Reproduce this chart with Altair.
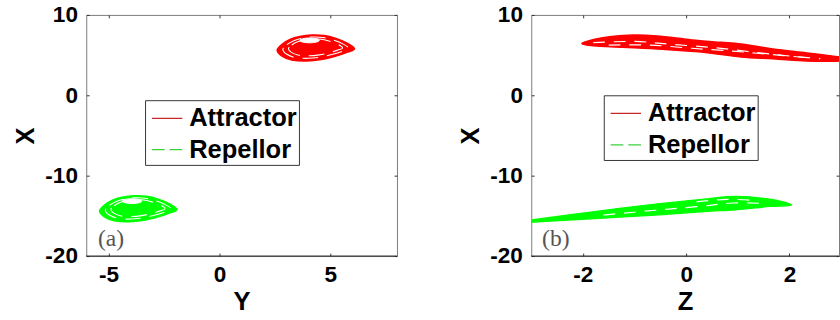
import altair as alt
import pandas as pd

SANS = "Liberation Sans"
SERIF = "Liberation Serif"
RED = "#ff0000"
GREEN = "#00ff00"

# ---------------- Panel (a): X against Y ----------------
# attractor orbit envelope
a_att_y = [2.60, 2.82, 3.18, 3.62, 4.15, 4.72, 5.25, 5.78, 6.09, 5.78, 5.25, 4.59, 3.93, 3.26, 2.82]
a_att_x = [5.61, 6.34, 6.95, 7.32, 7.50, 7.44, 7.07, 6.46, 5.79, 5.37, 4.88, 4.45, 4.27, 4.39, 4.88]
# gaps between orbit windings
a_att_g1_y = [3.11, 3.26, 3.52, 3.82, 4.20, 4.59, 4.97, 5.34, 5.55, 5.34, 4.97, 4.50, 4.04, 3.57, 3.26]
a_att_g1_x = [5.78, 6.26, 6.65, 6.89, 7.01, 6.97, 6.73, 6.33, 5.90, 5.63, 5.31, 5.03, 4.91, 4.99, 5.31]
a_att_g2_y = [2.86, 3.04, 3.35, 3.72, 4.17, 4.66, 5.11, 5.56, 5.82, 5.56, 5.11, 4.55, 3.99, 3.42, 3.04]
a_att_g2_x = [5.70, 6.30, 6.80, 7.10, 7.25, 7.20, 6.90, 6.40, 5.85, 5.50, 5.10, 4.75, 4.60, 4.70, 5.10]
a_att_hole_y = [4.50, 4.37, 4.06, 3.75, 3.62, 3.75, 4.06, 4.37]
a_att_hole_x = [6.83, 7.04, 7.13, 7.04, 6.83, 6.62, 6.53, 6.62]

# repellor orbit envelope
a_rep_y = [-5.40, -5.18, -4.82, -4.38, -3.85, -3.28, -2.75, -2.22, -1.91, -2.22, -2.75, -3.41, -4.07, -4.74, -5.18]
a_rep_x = [-14.39, -13.66, -13.05, -12.68, -12.50, -12.56, -12.93, -13.54, -14.21, -14.63, -15.12, -15.55, -15.73, -15.61, -15.12]
a_rep_g1_y = [-4.89, -4.74, -4.48, -4.18, -3.80, -3.41, -3.03, -2.66, -2.45, -2.66, -3.03, -3.50, -3.96, -4.43, -4.74]
a_rep_g1_x = [-14.22, -13.74, -13.35, -13.11, -12.99, -13.03, -13.27, -13.67, -14.10, -14.37, -14.69, -14.97, -15.09, -15.01, -14.69]
a_rep_g2_y = [-5.14, -4.96, -4.65, -4.28, -3.83, -3.34, -2.89, -2.44, -2.18, -2.44, -2.89, -3.45, -4.01, -4.58, -4.96]
a_rep_g2_x = [-14.30, -13.70, -13.20, -12.90, -12.75, -12.80, -13.10, -13.60, -14.15, -14.50, -14.90, -15.25, -15.40, -15.30, -14.90]
a_rep_hole_y = [-3.50, -3.63, -3.94, -4.25, -4.38, -4.25, -3.94, -3.63]
a_rep_hole_x = [-13.17, -12.96, -12.87, -12.96, -13.17, -13.38, -13.47, -13.38]

# ---------------- Panel (b): X against Z ----------------
b_att_z = [-2.02, -1.79, -1.48, -1.03, -0.56, 0.11, 0.68, 1.06, 1.68, 2.33, 2.89, 3.05,
           3.05, 2.89, 2.33, 1.68, 1.06, 0.30, -0.46, -1.22, -1.79]
b_att_x = [6.46, 6.95, 7.28, 7.50, 7.38, 6.89, 6.59, 6.38, 5.77, 5.28, 4.84, 4.70,
           4.33, 4.23, 4.27, 4.55, 4.76, 5.37, 5.73, 5.98, 6.16]
b_att_g1_z = [-1.8, -1.0, -0.3, 0.5, 1.2, 1.9, 2.6]
b_att_g1_x = [6.55, 6.70, 6.35, 5.95, 5.45, 4.95, 4.55]
b_att_g2_z = [-1.5, -0.7, 0.1, 0.9, 1.6, 2.3]
b_att_g2_x = [6.25, 6.25, 5.85, 5.50, 5.10, 4.70]

b_rep_z = [-3.05, -2.96, -1.85, -0.59, 0.35, 0.96, 1.62, 2.04,
           1.62, 0.96, 0.35, -0.59, -1.85, -2.96, -3.05]
b_rep_x = [-15.45, -15.49, -14.55, -13.54, -12.93, -12.60, -12.93, -13.66,
           -13.82, -14.23, -14.45, -14.88, -15.37, -15.77, -15.80]
b_rep_g1_z = [-1.6, -0.6, 0.3, 0.9, 1.5]
b_rep_g1_x = [-14.90, -14.30, -13.80, -13.40, -13.45]
b_rep_g2_z = [0.2, 0.8, 1.4]
b_rep_g2_x = [-13.25, -12.95, -13.10]

# legend entries (single-point lines: nothing is drawn, only the legend)
series_names = ["Attractor", "Repellor"]
leg_a_h = [4.15, -3.85]
leg_b_h = [0.5, 0.5]
leg_v = [5.9, -14.1]

panel_tags = ["(a)", "(b)"]
tag_h = [-5.47, -2.79]
tag_v = -18.8


def path(h, v, name):
    return pd.DataFrame({"h": h, "v": v, "seq": list(range(len(h))), "path": name})


def paths(*items):
    return pd.concat([path(*it) for it in items], ignore_index=True)


def panel(xdom, xticks, xtitle, width, fills, gaps, holes, open_gaps, leg_h, tag, legx, legy):
    xs = alt.Scale(domain=xdom, nice=False, zero=False)
    ys = alt.Scale(domain=[-20, 10], nice=False, zero=False)
    lab = dict(labelFont=SANS, labelFontSize=23, labelFontWeight="bold", labelColor="black",
               titleFont=SANS, titleFontSize=26, titleFontWeight="bold", titleColor="black",
               grid=False, domain=False, tickColor="#333333", tickSize=3, offset=-3,
               labelFlush=False, labelExpr="datum.value")
    ax_bottom = alt.Axis(orient="bottom", values=xticks, title=xtitle, labelPadding=8,
                         titlePadding=3, **lab)
    ax_left = alt.Axis(orient="left", values=[-20, -10, 0, 10], title="X", labelPadding=9,
                       titlePadding=7, **lab)
    tick_only = dict(grid=False, domain=False, labels=False, title=None, tickSize=3,
                     offset=-3, tickColor="#333333")
    ax_top = alt.Axis(orient="top", values=xticks, **tick_only)
    ax_right = alt.Axis(orient="right", values=[-20, -10, 0, 10], **tick_only)

    def xy(first=False):
        return dict(x=alt.X("h:Q", scale=xs, axis=ax_bottom if first else None),
                    y=alt.Y("v:Q", scale=ys, axis=ax_left if first else None))

    layers = []
    for i, (df, color) in enumerate(fills):
        layers.append(
            alt.Chart(df).mark_line(interpolate="cardinal-closed", fill=color, stroke=color,
                                    strokeWidth=1.5, clip=True)
            .encode(order="seq:Q", **xy(i == 0))
        )
    if gaps is not None:
        layers.append(
            alt.Chart(gaps).mark_line(interpolate="cardinal-closed", stroke="white",
                                      strokeWidth=1.1, strokeDash=[16, 9], clip=True)
            .encode(order="seq:Q", detail="path:N", **xy())
        )
    if holes is not None:
        layers.append(
            alt.Chart(holes).mark_line(interpolate="cardinal-closed", fill="white",
                                       stroke="white", strokeWidth=1, clip=True)
            .encode(order="seq:Q", detail="path:N", **xy())
        )
    if open_gaps is not None:
        layers.append(
            alt.Chart(open_gaps).mark_line(interpolate="cardinal", stroke="white",
                                           strokeWidth=1.2, strokeDash=[12, 9], clip=True)
            .encode(order="seq:Q", detail="path:N", **xy())
        )

    # darker bottom frame edge
    layers.append(
        alt.Chart(pd.DataFrame({"v": [-20]})).mark_rule(color="#222222", strokeWidth=1)
        .encode(y=alt.Y("v:Q", scale=ys, axis=None))
    )

    leg = alt.Legend(title=None, orient="none", legendX=legx, legendY=legy,
                     strokeColor="#333333", fillColor="white", padding=2,
                     symbolType="stroke", symbolSize=961, symbolStrokeWidth=1.2,
                     symbolOffset=4, labelFont=SANS, labelFontSize=26,
                     labelFontWeight="bold", labelColor="black", labelOffset=6,
                     rowPadding=2)
    leg_df = pd.DataFrame({"name": series_names, "h": leg_h, "v": leg_v})
    layers.append(
        alt.Chart(leg_df).mark_line(strokeWidth=1.2)
        .encode(
            x=alt.X("h:Q", scale=xs, axis=ax_top),
            y=alt.Y("v:Q", scale=ys, axis=ax_right),
            stroke=alt.Stroke("name:N", legend=leg,
                              scale=alt.Scale(domain=series_names, range=["#c82828", "#3cd23c"])),
            strokeDash=alt.StrokeDash("name:N", legend=leg,
                                      scale=alt.Scale(domain=series_names, range=[[1, 0], [13, 5]])),
        )
    )

    tag_df = pd.DataFrame({"h": [tag[0]], "v": [tag_v], "t": [tag[1]]})
    layers.append(
        alt.Chart(tag_df).mark_text(font=SERIF, fontSize=24, color="#555555",
                                    align="left", baseline="alphabetic")
        .encode(x=alt.X("h:Q", scale=xs, axis=None), y=alt.Y("v:Q", scale=ys, axis=None),
                text="t:N")
    )

    return (alt.layer(*layers)
            .resolve_axis(x="independent", y="independent")
            .properties(width=width, height=246))


pa = panel(
    [-6, 8], [-5, 0, 5], "Y", 317,
    [(path(a_att_y, a_att_x, "att"), RED), (path(a_rep_y, a_rep_x, "rep"), GREEN)],
    paths((a_att_g1_y, a_att_g1_x, "ag1"), (a_att_g2_y, a_att_g2_x, "ag2"),
          (a_rep_g1_y, a_rep_g1_x, "rg1"), (a_rep_g2_y, a_rep_g2_x, "rg2")),
    paths((a_att_hole_y, a_att_hole_x, "ah"), (a_rep_hole_y, a_rep_hole_x, "rh")),
    None, leg_a_h, (tag_h[0], panel_tags[0]), 60, 87,
)

pb = panel(
    [-3, 2.96], [-2, 0, 2], "Z", 314,
    [(path(b_att_z, b_att_x, "att"), RED), (path(b_rep_z, b_rep_x, "rep"), GREEN)],
    None, None,
    paths((b_att_g1_z, b_att_g1_x, "ag1"), (b_att_g2_z, b_att_g2_x, "ag2"),
          (b_rep_g1_z, b_rep_g1_x, "rg1"), (b_rep_g2_z, b_rep_g2_x, "rg2")),
    leg_b_h, (tag_h[1], panel_tags[1]), 74, 82,
)

chart = (
    alt.hconcat(pa, pb, spacing=60)
    .resolve_scale(x="independent", y="independent", stroke="independent", strokeDash="independent")
    .resolve_legend(stroke="independent", strokeDash="independent")
    .configure_view(stroke="#7a7a7a", strokeWidth=1)
    .properties(padding={"left": 12, "top": 0, "right": 0, "bottom": 0}, background="white")
)

chart.save("out.html", embed_options={"renderer": "svg", "actions": False})
